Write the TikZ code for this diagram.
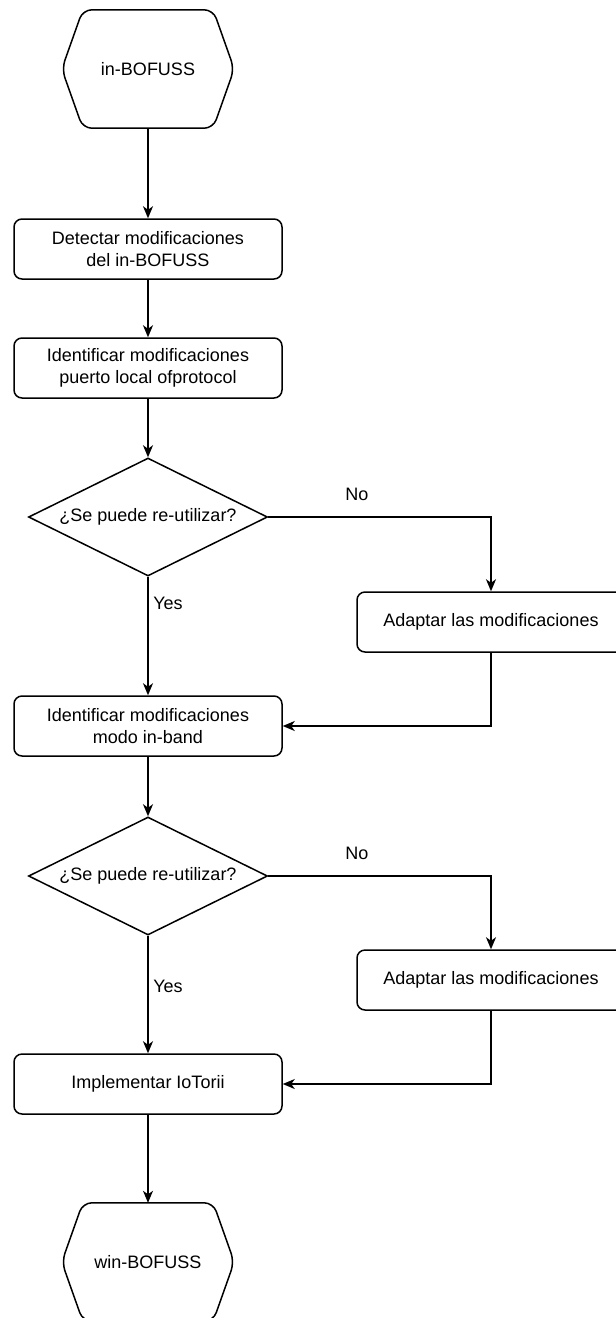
\documentclass[tikz,border=0pt]{standalone}
\usepackage{fontspec}
\setmainfont{Liberation Sans}
\usetikzlibrary{shapes.geometric,arrows.meta}
\tikzset{
  proc/.style={draw, rounded corners=8pt, line width=1.5pt, minimum width=268pt, minimum height=60pt, inner sep=0pt, align=center, font=\fontsize{18}{22.5}\selectfont},
  dec/.style={draw, diamond, shape aspect=2, line width=1.5pt, minimum width=239pt, minimum height=118pt, inner sep=0pt, align=center, font=\fontsize{18}{22.5}\selectfont},
  hexa/.style={minimum width=172pt, minimum height=118pt, inner sep=0pt, font=\fontsize{18}{22.5}\selectfont},
  hexline/.style={draw, line width=1.5pt, rounded corners=9pt},
  conn/.style={line width=1.5pt, -{Stealth[length=12pt,width=10pt,inset=3.5pt]}},
  lbl/.style={font=\fontsize{18}{22.5}\selectfont, inner sep=0pt}
}
\begin{document}
\begin{tikzpicture}[x=1pt,y=-1pt]
\useasboundingbox (0,0) rectangle (616,1318);
\clip (0,0) rectangle (616,1318);
% nodes
\node[hexa] (h1) at (148,69) {in-BOFUSS};
\node[proc] (b1) at (148,249) {Detectar modificaciones\\del in-BOFUSS};
\node[proc] (b2) at (148,368) {Identificar modificaciones\\puerto local ofprotocol};
\node[dec] (d1) at (148,517) {¿Se puede re-utilizar?};
\node[proc] (a1) at (491,622) {Adaptar las modificaciones};
\node[proc] (b3) at (148,726) {Identificar modificaciones\\modo in-band};
\node[dec] (d2) at (148,876) {¿Se puede re-utilizar?};
\node[proc] (a2) at (491,980) {Adaptar las modificaciones};
\node[proc] (b4) at (148,1084) {Implementar IoTorii};
\node[hexa] (h2) at (148,1262) {win-BOFUSS};
% hexagon outlines
\draw[hexline] (h1.west) -- ([xshift=21pt]h1.north west) -- ([xshift=-21pt]h1.north east) -- (h1.east) -- ([xshift=-21pt]h1.south east) -- ([xshift=21pt]h1.south west) -- cycle;
\draw[hexline] (h2.west) -- ([xshift=21pt]h2.north west) -- ([xshift=-21pt]h2.north east) -- (h2.east) -- ([xshift=-21pt]h2.south east) -- ([xshift=21pt]h2.south west) -- cycle;
% connectors
\draw[conn] (h1.south) -- (b1.north);
\draw[conn] (b1.south) -- (b2.north);
\draw[conn] (b2.south) -- (d1.north);
\draw[conn] (d1.east) -| (a1.north);
\draw[conn] (d1.south) -- (b3.north);
\draw[conn] (a1.south) |- (b3.east);
\draw[conn] (b3.south) -- (d2.north);
\draw[conn] (d2.east) -| (a2.north);
\draw[conn] (d2.south) -- (b4.north);
\draw[conn] (a2.south) |- (b4.east);
\draw[conn] (b4.south) -- (h2.north);
% labels
\node[lbl] (no1) at (357,494) {No};
\node[lbl] (yes1) at (168,603) {Yes};
\node[lbl] (no2) at (357,853) {No};
\node[lbl] (yes2) at (168,986) {Yes};
\end{tikzpicture}
\end{document}
